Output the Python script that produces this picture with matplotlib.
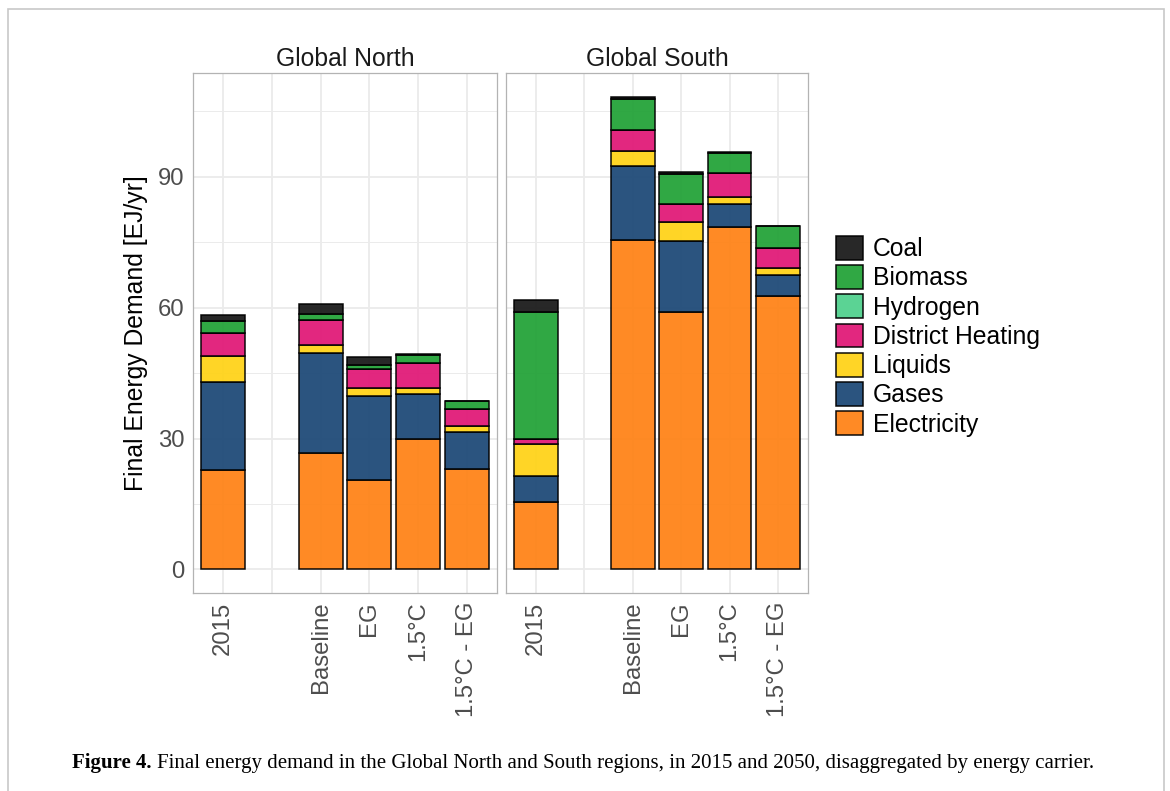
import numpy as np
import matplotlib
matplotlib.use("Agg")
import matplotlib.pyplot as plt
from matplotlib.patches import Patch, Rectangle
from matplotlib.ticker import MultipleLocator

plt.rcParams['font.family'] = ['Liberation Sans', 'DejaVu Sans']

# categories (blank slot separates 2015 from the 2050 scenarios)
scenarios = ["2015", "", "Baseline", "EG", "1.5°C", "1.5°C - EG"]
carriers = ["Electricity", "Gases", "Liquids", "District Heating",
            "Hydrogen", "Biomass", "Coal"]
legend_order = ["Coal", "Biomass", "Hydrogen", "District Heating",
                "Liquids", "Gases", "Electricity"]
colors = {
    "Electricity": "#ff8419",
    "Gases": "#1f4b78",
    "Liquids": "#ffd31a",
    "District Heating": "#e11b78",
    "Hydrogen": "#52d18e",
    "Biomass": "#25a33a",
    "Coal": "#1c1c1c",
}
nan = np.nan

# EJ/yr
north_electricity = [22.7, nan, 26.6, 20.4, 29.9, 22.9]
north_gases = [20.3, nan, 22.9, 19.3, 10.2, 8.5]
north_liquids = [6.0, nan, 1.9, 1.8, 1.5, 1.4]
north_heating = [5.1, nan, 5.8, 4.4, 5.6, 3.9]
north_hydrogen = [0.0, nan, 0.0, 0.0, 0.0, 0.0]
north_biomass = [2.8, nan, 1.3, 1.0, 1.9, 1.9]
north_coal = [1.5, nan, 2.3, 1.9, 0.2, 0.1]

south_electricity = [15.4, nan, 75.6, 59.1, 78.6, 62.7]
south_gases = [6.0, nan, 16.9, 16.1, 5.1, 4.9]
south_liquids = [7.4, nan, 3.4, 4.5, 1.7, 1.6]
south_heating = [1.0, nan, 4.9, 4.1, 5.4, 4.4]
south_hydrogen = [0.0, nan, 0.0, 0.0, 0.0, 0.0]
south_biomass = [29.3, nan, 7.1, 6.8, 4.6, 5.1]
south_coal = [2.7, nan, 0.5, 0.6, 0.3, 0.1]

regions = {
    "Global North": [north_electricity, north_gases, north_liquids, north_heating,
                     north_hydrogen, north_biomass, north_coal],
    "Global South": [south_electricity, south_gases, south_liquids, south_heating,
                     south_hydrogen, south_biomass, south_coal],
}

W, H = 1170, 791
fig = plt.figure(figsize=(W / 100, H / 100), dpi=100)

panels = {
    "Global North": [193 / W, 1 - 593 / H, 304 / W, 520 / H],
    "Global South": [506 / W, 1 - 593 / H, 302 / W, 520 / H],
}

x = np.arange(len(scenarios))
axes = []
for name, stack in regions.items():
    ax = fig.add_axes(panels[name])
    axes.append(ax)
    bottom = np.zeros(len(scenarios))
    for carrier, vals in zip(carriers, stack):
        vals = np.array(vals, dtype=float)
        ax.bar(x, vals, 0.9, bottom=bottom, color=colors[carrier], alpha=0.95,
               edgecolor="black", linewidth=1.1, zorder=2)
        bottom = bottom + vals

    ax.set_xlim(-0.62, len(scenarios) - 1 + 0.62)
    ax.set_ylim(-5.42, 113.8)
    ax.yaxis.set_major_locator(MultipleLocator(30))
    ax.yaxis.set_minor_locator(MultipleLocator(15))
    ax.set_xticks(x)
    ax.set_xticklabels(scenarios, rotation=90, fontsize=17.2, color="#4d4d4d")
    ax.grid(which="major", color="#ebebeb", linewidth=1.3, zorder=0)
    ax.grid(which="minor", axis="y", color="#ebebeb", linewidth=0.7, zorder=0)
    ax.set_axisbelow(True)
    ax.tick_params(axis="both", which="both", length=0, labelsize=17.2,
                   colors="#4d4d4d", pad=6)
    for s in ax.spines.values():
        s.set_color("#b3b3b3")
        s.set_linewidth(0.9)
    ax.set_title(name, fontsize=17.8, color="#1a1a1a", pad=5)

axes[0].set_ylabel("Final Energy Demand [EJ/yr]", fontsize=17.8, color="black",
                   labelpad=7)
axes[1].set_yticklabels([])

handles = [Patch(facecolor=colors[c], edgecolor="black", linewidth=1.1, alpha=0.95)
           for c in legend_order]
fig.legend(handles, legend_order, loc="upper left",
           bbox_to_anchor=(836 / W, 1 - 236 / H), frameon=False, fontsize=17.8,
           handlelength=1.1, handleheight=1.1, handletextpad=0.4,
           labelspacing=0.16, borderpad=0, borderaxespad=0)

# page frame
fig.patches.append(Rectangle((8 / W, -0.05), 1156 / W, 1 - 9 / H + 0.05,
                             transform=fig.transFigure, fill=False,
                             edgecolor="#c8c8c8", linewidth=1.2))

# caption
renderer = fig.canvas.get_renderer()
t1 = fig.text(72 / W, 1 - 768 / H, "Figure 4.", fontsize=15, fontweight="bold",
              family=["Liberation Serif", "DejaVu Serif"], va="baseline")
bb = t1.get_window_extent(renderer)
fig.text(bb.x1 / W + 5 / W, 1 - 768 / H,
         "Final energy demand in the Global North and South regions, in 2015 and 2050, "
         "disaggregated by energy carrier.",
         fontsize=15, family=["Liberation Serif", "DejaVu Serif"], va="baseline")

fig.savefig("out.png", dpi=100)
